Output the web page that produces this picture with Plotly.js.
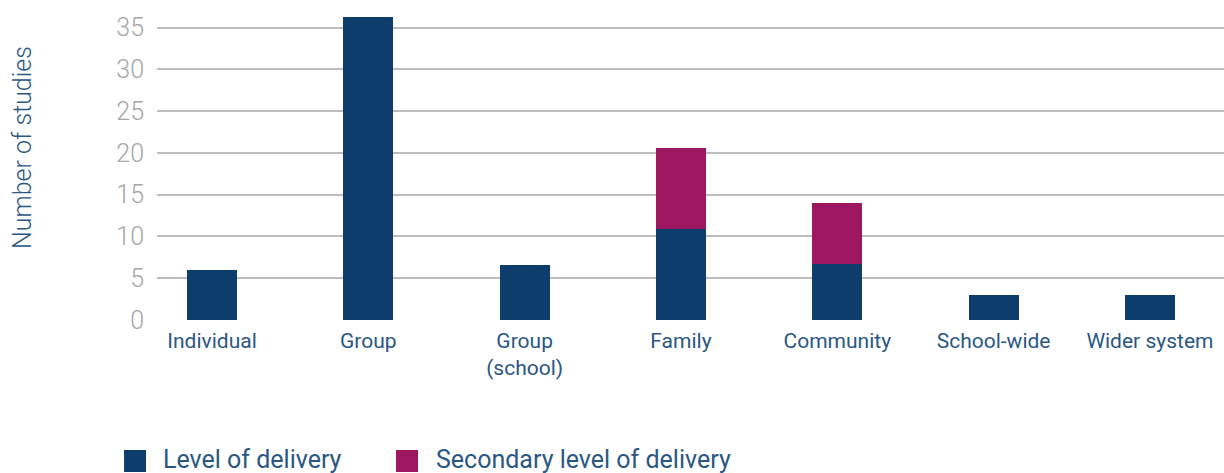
<!DOCTYPE html>
<html>
<head>
<meta charset="utf-8">
<script src="https://cdn.plot.ly/plotly-3.0.1.min.js"></script>
<style>html,body{margin:0;padding:0;background:#fff;}#chart{width:1224px;height:473px;}</style>
</head>
<body>
<div id="chart"></div>
<script>
const categories = ["Individual", "Group", "Group<br>(school)", "Family", "Community", "School-wide", "Wider system"];
const levelOfDelivery = [6, 36.3, 6.6, 10.9, 6.7, 3, 3];
const secondaryLevel = [0, 0, 0, 9.7, 7.3, 0, 0];
const seriesNames = ["Level of delivery", "Secondary level of delivery"];
const yTicks = [0, 5, 10, 15, 20, 25, 30, 35];

const navy = "#0d3d6b";
const magenta = "#9d1660";
const textBlue = "#2a5783";
const xIdx = categories.map((_, i) => i);

const traces = [
  {type: "bar", name: seriesNames[0], x: xIdx, y: levelOfDelivery, marker: {color: navy}, width: 0.32, showlegend: false, hoverinfo: "y"},
  {type: "bar", name: seriesNames[1], x: xIdx, y: secondaryLevel, marker: {color: magenta}, width: 0.32, showlegend: false, hoverinfo: "y"}
];

// custom legend (square swatch + label) below the plot
const legendItems = [
  {name: seriesNames[0], color: navy, sx0: -0.0309, sx1: -0.0103, tx: 0.0035},
  {name: seriesNames[1], color: magenta, sx0: 0.2240, sx1: 0.2446, tx: 0.2600}
];
const shapes = legendItems.map(it => ({
  type: "rect", xref: "paper", yref: "paper",
  x0: it.sx0, x1: it.sx1, y0: -0.4919, y1: -0.4207,
  fillcolor: it.color, line: {width: 0}
}));
const legendTexts = legendItems.map(it => ({
  text: it.name, showarrow: false, xref: "paper", yref: "paper",
  x: it.tx, y: -0.453, xanchor: "left", yanchor: "middle",
  font: {size: 25, color: textBlue, family: "Roboto, sans-serif"}
}));

const layout = {
  width: 1224, height: 473,
  margin: {l: 157, r: 0, t: 11, b: 153},
  paper_bgcolor: "#fff", plot_bgcolor: "#fff",
  barmode: "stack",
  showlegend: false,
  font: {family: "Roboto, sans-serif", color: textBlue},
  xaxis: {
    range: [-0.352, 6.474],
    tickmode: "array", tickvals: xIdx, ticktext: categories,
    showgrid: false, zeroline: false, showline: false, ticks: "",
    ticklabelstandoff: 6,
    tickfont: {size: 21, color: textBlue, family: "Roboto, sans-serif"},
    fixedrange: true, automargin: false
  },
  yaxis: {
    range: [0, 37],
    tickmode: "array", tickvals: yTicks,
    showgrid: true, gridcolor: "#bdbdbd", gridwidth: 2,
    zeroline: false, showline: false, ticks: "",
    ticklabelstandoff: 12,
    tickfont: {size: 25, color: "#a6a6a6", family: "Roboto, sans-serif", weight: 300},
    fixedrange: true, automargin: false
  },
  shapes: shapes,
  annotations: [{
    text: "Number of studies", textangle: -90, showarrow: false,
    xref: "paper", yref: "paper", x: -0.1256, y: 0.56, xanchor: "center", yanchor: "middle",
    font: {size: 25, color: textBlue, family: "Roboto, sans-serif", weight: 300}
  }].concat(legendTexts)
};

Plotly.newPlot("chart", traces, layout, {displayModeBar: false, staticPlot: true});
</script>
</body>
</html>
